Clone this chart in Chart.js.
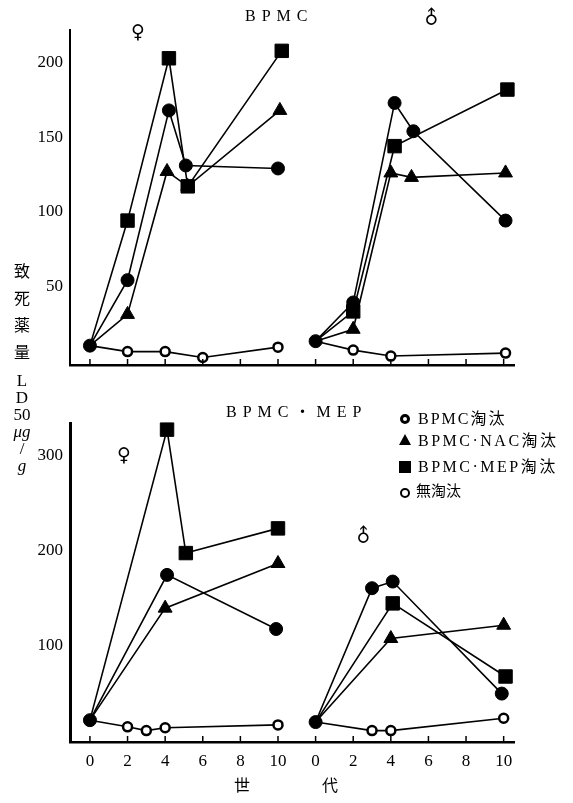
<!DOCTYPE html>
<html>
<head>
<meta charset="utf-8">
<script src="https://cdn.jsdelivr.net/npm/chart.js@4"></script>
<style>
  body { margin: 0; background: #fff; }
  #page { position: relative; width: 573px; height: 803px; overflow: hidden; background: #fff; }
  canvas { position: absolute; left: 0; }
  .t { position: absolute; color: #000; font-family: "Liberation Serif", "Noto Sans CJK JP", serif; white-space: nowrap; line-height: 1; }
  .cjk { font-family: "Liberation Serif", "Noto Sans CJK JP", serif; }
  .sym { font-family: "DejaVu Sans", sans-serif; font-size: 19px; }
  .male { transform: rotate(-45deg); }
  .mk { position: absolute; box-sizing: border-box; }
</style>
</head>
<body>
<div id="page">
  <canvas id="haut" width="573" height="390" style="top:0"></canvas>
  <canvas id="bas" width="573" height="403" style="top:400px"></canvas>

  <!-- titres -->
  <div class="t" style="left:245px;top:8px;font-size:16px;letter-spacing:6px">BPMC</div>
  <div class="t" style="left:226px;top:404px;font-size:16px;letter-spacing:6px">BPMC・MEP</div>
  <div class="t sym" style="left:131px;top:22px">♀</div>
  <div class="t sym male" style="left:423px;top:8px">♂</div>
  <div class="t sym" style="left:117px;top:445px">♀</div>
  <div class="t sym male" style="left:355px;top:526px">♂</div>

  <!-- legende -->
  <div class="mk" style="left:400px;top:414px;width:10px;height:10px;border:3px solid #000;border-radius:50%"></div>
  <div class="t" style="left:418px;top:411px;font-size:16px;letter-spacing:2px">BPMC<span class="cjk">淘汰</span></div>
  <div class="mk" style="left:399px;top:434px;width:0;height:0;border-left:6px solid transparent;border-right:6px solid transparent;border-bottom:11px solid #000"></div>
  <div class="t" style="left:418px;top:433px;font-size:16px;letter-spacing:2.5px">BPMC·NAC<span class="cjk">淘汰</span></div>
  <div class="mk" style="left:399px;top:461px;width:12px;height:12px;background:#000"></div>
  <div class="t" style="left:418px;top:459px;font-size:16px;letter-spacing:2.5px">BPMC·MEP<span class="cjk">淘汰</span></div>
  <div class="mk" style="left:400px;top:488px;width:10px;height:10px;border:2px solid #000;border-radius:50%"></div>
  <div class="t cjk" style="left:416px;top:484px;font-size:15px">無淘汰</div>

  <!-- titre axe y vertical -->
  <div class="t" style="left:11px;top:258px;font-size:16px;text-align:center;width:22px;line-height:27px">致<br>死<br>薬<br>量</div>
  <div class="t" style="left:11px;top:372px;font-size:17px;text-align:center;width:22px;line-height:17px">L<br>D<br>50<br><i>μg</i><br>/<br><i>g</i></div>

  <!-- titre axe x -->
  <div class="t cjk" style="left:234px;top:778px;font-size:16px">世</div>
  <div class="t cjk" style="left:322px;top:778px;font-size:16px">代</div>
</div>

<script>
// decalage de l'axe x pour le panneau male (0 male = 12 sur l'axe)
const MALE_OFFSET = 12;

// graduations de l'axe x (generations)
const xTicks = [0, 2, 4, 6, 8, 10, 12, 14, 16, 18, 20, 22];
const xTickLabels = ["0", "2", "4", "6", "8", "10", "0", "2", "4", "6", "8", "10"];
const yTicksHaut = [50, 100, 150, 200];
const yTicksBas = [100, 200, 300];

// ===== BPMC (haut) - femelle =====
const hF_bpmc_gen = [0, 2, 4.2, 5.1, 10];
const hF_bpmc_ld = [10, 54, 168, 131, 129];
const hF_nac_gen = [0, 2, 4.1, 5.2, 10.1];
const hF_nac_ld = [10, 31, 127, 117, 168];
const hF_mep_gen = [0, 2, 4.2, 5.2, 10.2];
const hF_mep_ld = [10, 94, 203, 117, 208];
const hF_none_gen = [0, 2, 4, 6, 10];
const hF_none_ld = [10, 6, 6, 2, 9];

// ===== BPMC (haut) - male =====
const hM_bpmc_gen = [0, 2, 4.2, 5.2, 10.1];
const hM_bpmc_ld = [13, 39, 173, 154, 94];
const hM_nac_gen = [0, 2, 4, 5.1, 10.1];
const hM_nac_ld = [13, 21, 126, 123, 126];
const hM_mep_gen = [0, 2, 4.2, 10.2];
const hM_mep_ld = [13, 33, 144, 182];
const hM_none_gen = [0, 2, 4, 10.1];
const hM_none_ld = [13, 7, 3, 5];

// ===== BPMC・MEP (bas) - femelle =====
const bF_bpmc_gen = [0, 4.1, 9.9];
const bF_bpmc_ld = [21, 174, 117];
const bF_nac_gen = [0, 4, 10];
const bF_nac_ld = [21, 139, 186];
const bF_mep_gen = [0, 4.1, 5.1, 10];
const bF_mep_ld = [21, 327, 197, 223];
const bF_none_gen = [0, 2, 3, 4, 10];
const bF_none_ld = [21, 14, 10, 13, 16];

// ===== BPMC・MEP (bas) - male =====
const bM_bpmc_gen = [0, 3, 4.1, 9.9];
const bM_bpmc_ld = [19, 160, 167, 49];
const bM_nac_gen = [0, 4, 10];
const bM_nac_ld = [19, 107, 121];
const bM_mep_gen = [0, 4.1, 10.1];
const bM_mep_ld = [19, 144, 67];
const bM_none_gen = [0, 3, 4, 10];
const bM_none_ld = [19, 10, 10, 23];

// styles des marqueurs par type de selection
const styles = {
    none: {pointStyle: 'circle', rayon: 4.5, pointBackgroundColor: '#fff', pointBorderWidth: 2.5},
    nac: {pointStyle: 'triangle', rayon: 8, pointBackgroundColor: '#000', pointBorderWidth: 1},
    mep: {pointStyle: 'rect', rayon: 9.5, pointBackgroundColor: '#000', pointBorderWidth: 1},
    bpmc: {pointStyle: 'circle', rayon: 6.5, pointBackgroundColor: '#000', pointBorderWidth: 1}
};

function serie(gen, ld, offset, style) {
    let pts = [];
    for (let i = 0; i < gen.length; i++) {
        pts.push({x: gen[i] + offset, y: ld[i]});
    }
    const st = styles[style];
    return {
        data: pts,
        borderColor: '#000',
        borderWidth: 1.6,
        pointBorderColor: '#000',
        pointBackgroundColor: st.pointBackgroundColor,
        pointBorderWidth: st.pointBorderWidth,
        pointStyle: st.pointStyle,
        // le point de depart commun (generation 0) est un cercle plein
        pointRadius: function (c) { return (c.dataIndex === 0 && style !== 'bpmc') ? 0 : st.rayon; },
        pointHoverRadius: 0,
        tension: 0,
        clip: false
    };
}

// petites graduations de l'axe x vers l'interieur
const ticksInterieur = {
    id: 'ticksInterieur',
    afterDraw(chart) {
        const sx = chart.scales.x;
        const ctx = chart.ctx;
        const bas = chart.chartArea.bottom;
        ctx.save();
        ctx.strokeStyle = '#000';
        ctx.lineWidth = 1.5;
        sx.ticks.forEach(function (t) {
            const px = sx.getPixelForValue(t.value);
            ctx.beginPath();
            ctx.moveTo(px, bas);
            ctx.lineTo(px, bas - 6);
            ctx.stroke();
        });
        ctx.restore();
    }
};

function options(yMin, yMax, yTicks, padTop, xHeight, showXLabels, xBorder, yBorder) {
    return {
        responsive: false,
        animation: false,
        events: [],
        layout: {padding: {top: padTop, right: 59, left: 0, bottom: 0}},
        plugins: {legend: {display: false}, tooltip: {enabled: false}},
        scales: {
            x: {
                type: 'linear',
                min: -1.06,
                max: 22.55,
                afterBuildTicks: function (s) { s.ticks = xTicks.map(v => ({value: v})); },
                afterFit: function (s) { s.height = xHeight; },
                grid: {display: false, drawTicks: false},
                border: {display: true, color: '#000', width: xBorder},
                ticks: {
                    display: showXLabels,
                    padding: 9,
                    color: '#000',
                    maxRotation: 0,
                    font: {family: 'Liberation Serif', size: 17},
                    callback: function (v) { return xTickLabels[xTicks.indexOf(v)]; }
                }
            },
            y: {
                type: 'linear',
                min: yMin,
                max: yMax,
                afterBuildTicks: function (s) { s.ticks = yTicks.map(v => ({value: v})); },
                afterFit: function (s) { s.width = 70; },
                grid: {display: false, drawTicks: false},
                border: {display: true, color: '#000', width: yBorder},
                ticks: {
                    padding: 7,
                    color: '#000',
                    font: {family: 'Liberation Serif', size: 17}
                }
            }
        }
    };
}

// le premier jeu de donnees est dessine au-dessus des autres
new Chart(document.getElementById('haut').getContext('2d'), {
    type: 'line',
    data: {
        datasets: [
            serie(hF_bpmc_gen, hF_bpmc_ld, 0, 'bpmc'),
            serie(hF_mep_gen, hF_mep_ld, 0, 'mep'),
            serie(hF_nac_gen, hF_nac_ld, 0, 'nac'),
            serie(hF_none_gen, hF_none_ld, 0, 'none'),
            serie(hM_bpmc_gen, hM_bpmc_ld, MALE_OFFSET, 'bpmc'),
            serie(hM_mep_gen, hM_mep_ld, MALE_OFFSET, 'mep'),
            serie(hM_nac_gen, hM_nac_ld, MALE_OFFSET, 'nac'),
            serie(hM_none_gen, hM_none_ld, MALE_OFFSET, 'none')
        ]
    },
    options: options(-3, 222, yTicksHaut, 30, 25, false, 2.5, 2),
    plugins: [ticksInterieur]
});

new Chart(document.getElementById('bas').getContext('2d'), {
    type: 'line',
    data: {
        datasets: [
            serie(bF_bpmc_gen, bF_bpmc_ld, 0, 'bpmc'),
            serie(bF_mep_gen, bF_mep_ld, 0, 'mep'),
            serie(bF_nac_gen, bF_nac_ld, 0, 'nac'),
            serie(bF_none_gen, bF_none_ld, 0, 'none'),
            serie(bM_bpmc_gen, bM_bpmc_ld, MALE_OFFSET, 'bpmc'),
            serie(bM_mep_gen, bM_mep_ld, MALE_OFFSET, 'mep'),
            serie(bM_nac_gen, bM_nac_ld, MALE_OFFSET, 'nac'),
            serie(bM_none_gen, bM_none_ld, MALE_OFFSET, 'none')
        ]
    },
    options: options(-2, 334, yTicksBas, 23, 61, true, 2.5, 3),
    plugins: [ticksInterieur]
});
</script>
</body>
</html>
